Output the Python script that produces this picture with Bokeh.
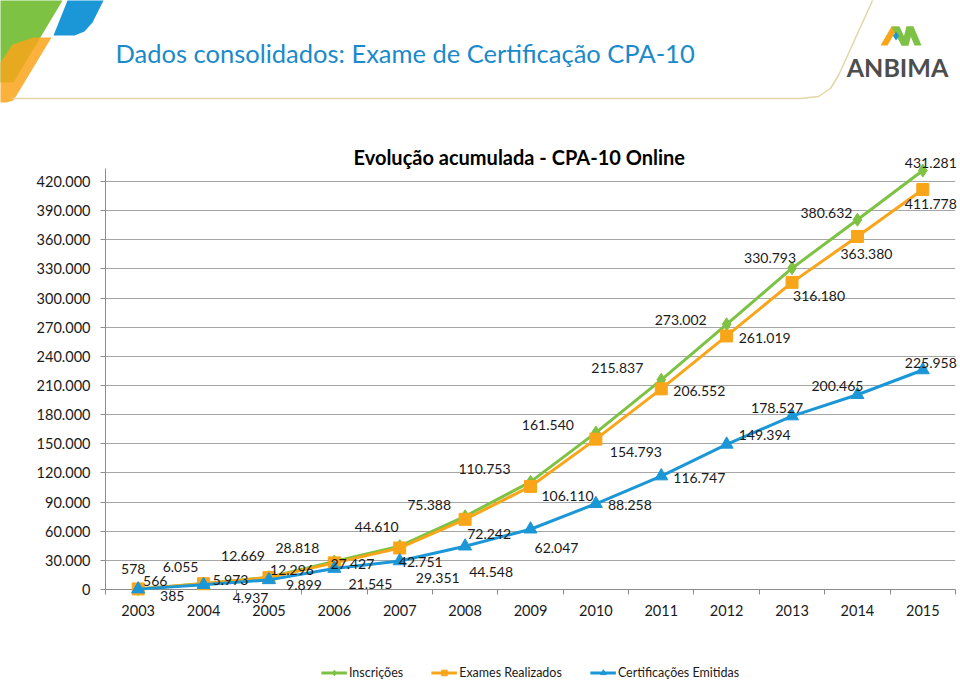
from bokeh.plotting import figure
from bokeh.models import Range1d, FixedTicker, Legend, LegendItem, ColumnDataSource
from bokeh.layouts import column
from bokeh.embed import file_html
from bokeh.resources import INLINE
from bokeh.core.properties import value

# ---------------- data ----------------
years = [2003, 2004, 2005, 2006, 2007, 2008, 2009, 2010, 2011, 2012, 2013, 2014, 2015]
inscricoes = [578, 6055, 12669, 28818, 44610, 75388, 110753, 161540, 215837, 273002, 330793, 380632, 431281]
exames = [566, 5973, 12296, 27427, 42751, 72242, 106110, 154793, 206552, 261019, 316180, 363380, 411778]
certificacoes = [385, 4937, 9899, 21545, 29351, 44548, 62047, 88258, 116747, 149394, 178527, 200465, 225958]
series_names = ["Inscrições", "Exames Realizados", "Certificações Emitidas"]
y_ticks = list(range(0, 420001, 30000))
header_title = "Dados consolidados:  Exame de Certificação CPA-10"
chart_title = "Evolução acumulada - CPA-10 Online"
logo_text = "ANBIMA"

# label offsets in screen pixels (dx, dy; dy positive = down)
ins_dx = [-5, -23, -26, -37, -23, -36, -46, -48, -44, -46, -22, -31, 8]
ins_dy = [-20, -17, -21, -14, -19, -11, -13, -8, -12, -4, -10, -7, -8]
exa_dx = [17, 27, 23, 18, 21, 24, 37, 40, 38, 38, 27, 9, 8]
exa_dy = [-8, -4, -8, 1, 14, 15, 10, 13, 2, 2, 14, 17, 14]
cer_dx = [34, 47, 35, 36, 38, 26, 26, 34, 38, 38, -15, -20, 8]
cer_dy = [7, 13, 5, 15, 17, 26, 19, 1, 2, -9, -8, -9, -7]

GREEN = "#7DC242"
ORANGE = "#F9A51A"
BLUE = "#1B96D6"
FONT = "Lato"


def fmt(v):
    return f"{v:,}".replace(",", ".")


W = 960
FL, FR = 105, 955          # plot frame left / right (page px)
FT, FB = 168, 589          # plot frame top / bottom (page px)
HDR_H = 140
FOOT_H = 20
CHART_H = 682 - HDR_H - FOOT_H

# ---------------- header ----------------
hdr = figure(width=W, height=HDR_H, x_range=Range1d(FL, FR), y_range=Range1d(HDR_H, 0),
             output_backend="svg", toolbar_location=None,
             min_border_left=FL, min_border_right=W - FR, min_border_top=0, min_border_bottom=0,
             x_axis_location=None, y_axis_location=None)
hdr.grid.visible = False
hdr.outline_line_color = None
OV = dict(level="overlay")

# decorative swoosh
hdr.patch([0, 62, 13, 0], [0, 0, 82, 82], color=GREEN, line_width=0, **OV)
hdr.patch([33, 51, 13, 6, 0, 0, 12], [37, 37, 100, 102, 102, 62, 44], color=ORANGE, alpha=0.85, line_width=0, **OV)
hdr.patch([67, 103, 92, 84, 74, 53], [0, 0, 22, 31, 35, 35], color=BLUE, line_width=0, **OV)
hdr.line([12, 800, 818, 830, 838, 872], [98, 98, 96, 88, 75, 0], color="#E3D5A5", line_width=1.5, **OV)

# logo
hdr.patch([880, 887, 898, 891], [45, 45, 26, 26], color=ORANGE, line_width=0, **OV)
hdr.patch([891, 899, 908, 901], [26, 26, 45, 45], color=GREEN, line_width=0, **OV)
hdr.patch([901, 908, 913, 906], [45, 45, 26, 26], color=GREEN, line_width=0, **OV)
hdr.patch([906, 913, 921, 914], [26, 26, 45, 45], color=GREEN, line_width=0, **OV)
hdr.patch([895.5, 898.5, 895.5, 892.5], [31, 35.5, 40, 35.5], color=BLUE, line_width=0, **OV)
hdr.text([897], [66], text=[logo_text], text_align="center", text_baseline="middle",
         text_font=value(FONT), text_font_size="25px", text_font_style="bold", text_color="#4D4D4D", **OV)

hdr.text([115], [52], text=[header_title], text_align="left", text_baseline="middle",
         text_font=value(FONT), text_font_size="25.5px", text_color="#1A8ACB", **OV)

# ---------------- chart ----------------
p = figure(width=W, height=CHART_H, x_range=Range1d(2002.5, 2015.5), y_range=Range1d(0, 433400),
           output_backend="svg", toolbar_location=None,
           min_border_left=FL, min_border_right=W - FR,
           min_border_top=FT - HDR_H, min_border_bottom=CHART_H - (FT - HDR_H) - (FB - FT))
p.outline_line_color = None
p.xgrid.visible = False
p.ygrid.ticker = FixedTicker(ticks=y_ticks)
p.ygrid.grid_line_color = "#A6A6A6"

# pixel-space ranges for the chart title (page coordinates)
p.extra_x_ranges = {"px": Range1d(FL, FR)}
p.extra_y_ranges = {"py": Range1d(FB, FT)}
p.text([353], [156], text=[chart_title], text_align="left", text_baseline="middle",
       text_font=value(FONT), text_font_size="20px", text_font_style="bold", text_color="#000000",
       x_range_name="px", y_range_name="py", level="overlay")

p.yaxis.ticker = FixedTicker(ticks=y_ticks)
p.yaxis.major_label_overrides = {t: fmt(t) for t in y_ticks}
p.yaxis.major_tick_out = 5
p.yaxis.major_tick_in = 0
p.yaxis.minor_tick_out = 0
p.yaxis.minor_tick_in = 0
p.yaxis.major_label_standoff = 10

p.xaxis.ticker = FixedTicker(ticks=years, minor_ticks=[y + 0.5 for y in [2002] + years])
p.xaxis.major_tick_out = 0
p.xaxis.major_tick_in = 0
p.xaxis.minor_tick_out = 5
p.xaxis.minor_tick_in = 0
p.xaxis.major_label_standoff = 10

for ax in (p.xaxis, p.yaxis):
    ax.axis_line_color = "#8C8C8C"
    ax.major_tick_line_color = "#8C8C8C"
    ax.minor_tick_line_color = "#8C8C8C"
    ax.major_label_text_font = FONT
    ax.major_label_text_font_size = "14.5px"
    ax.major_label_text_color = "#1A1A1A"

specs = [
    (inscricoes, GREEN, "diamond", 13, ins_dx, ins_dy),
    (exames, ORANGE, "square", 12, exa_dx, exa_dy),
    (certificacoes, BLUE, "triangle", 13, cer_dx, cer_dy),
]
sources = []
for vals, col, mk, sz, dx, dy in specs:
    src = ColumnDataSource(dict(x=years, y=vals, lbl=[fmt(v) for v in vals], dx=dx, dy=dy))
    sources.append(src)
    p.line("x", "y", source=src, color=col, line_width=3, level="overlay")
    p.scatter("x", "y", source=src, marker=mk, size=sz, color=col, level="overlay")
for src in sources:
    p.text("x", "y", text="lbl", source=src, x_offset="dx", y_offset="dy",
           text_align="center", text_baseline="middle", text_font=value(FONT),
           text_font_size="14px", text_color="#1A1A1A", level="overlay")

# ---------------- footer (legend) ----------------
foot = figure(width=W, height=FOOT_H, x_range=Range1d(0, 1), y_range=Range1d(0, 1),
              output_backend="svg", toolbar_location=None,
              min_border_left=FL, min_border_right=W - FR, min_border_top=0, min_border_bottom=0,
              x_axis_location=None, y_axis_location=None)
foot.grid.visible = False
foot.outline_line_color = None
items = []
for name, (vals, col, mk, sz, dx, dy) in zip(series_names, specs):
    # legend-only renderers: points placed outside the visible range
    hidden = ColumnDataSource(dict(x=[-10, -9], y=[-10, -10]))
    lr = foot.line("x", "y", source=hidden, color=col, line_width=3)
    sr = foot.scatter("x", "y", source=hidden, marker=mk, size=sz, color=col)
    items.append(LegendItem(label=name, renderers=[lr, sr]))

legend = Legend(items=items, orientation="horizontal", location="center")
legend.border_line_color = None
legend.background_fill_alpha = 0
legend.label_text_font = FONT
legend.label_text_font_size = "12.5px"
legend.label_text_color = "#1A1A1A"
legend.glyph_width = 26
legend.glyph_height = 14
legend.label_standoff = 2
legend.spacing = 28
legend.padding = 0
legend.margin = 0
foot.add_layout(legend, "center")

layout = column(hdr, p, foot, spacing=0)
open("out.html", "w").write(file_html(layout, INLINE))
